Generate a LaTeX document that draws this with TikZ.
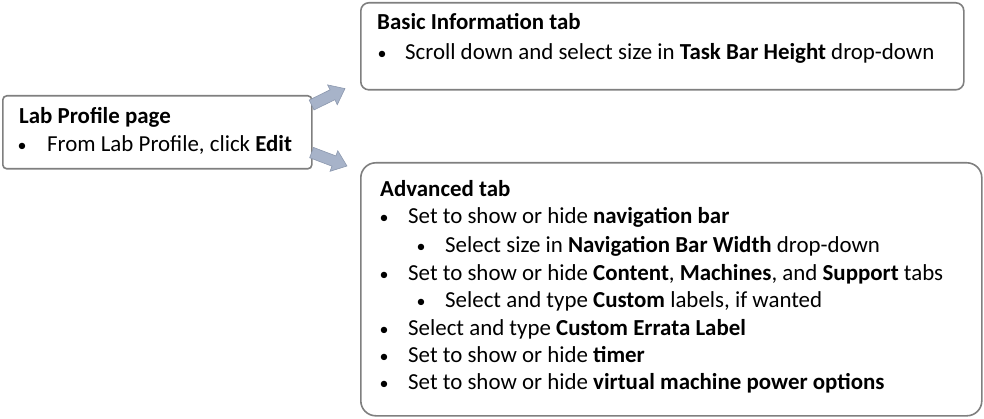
\documentclass[tikz,border=0pt]{standalone}
\usepackage{fontspec}
\setmainfont{Carlito}
\usetikzlibrary{calc}
\definecolor{boxline}{HTML}{7F7F7F}
\definecolor{arrowfill}{HTML}{A7B3C9}
\definecolor{arrowline}{HTML}{8C98AE}
\tikzset{
  panel/.style={draw=boxline, line width=1.6pt, fill=white, inner sep=0pt, anchor=north west},
  txt/.style={anchor=base west, inner sep=0pt, font=\fontsize{22.9}{27}\selectfont},
  dot/.style={anchor=base, inner sep=0pt, font=\fontsize{18}{22}\selectfont},
  blockarrow/.style={fill=arrowfill, draw=arrowline, line width=0.6pt, line join=miter}
}
% block arrow from #1 to #2: shaft half-width 5.5, head half-width 11, head length 14
\newcommand\blockarrowpath[2]{%
  \path[blockarrow] let \p1=($(#2)-(#1)$), \n1={atan2(\y1,\x1)}, \n2={veclen(\x1,\y1)} in
    [shift={(#1)}, rotate=\n1]
    (0,-5.5) -- (\n2-14,-5.5) -- (\n2-14,-11) -- (\n2,0) -- (\n2-14,11) -- (\n2-14,5.5) -- (0,5.5) -- cycle;}
\begin{document}
\begin{tikzpicture}[x=1pt, y=1pt]
\useasboundingbox (0,0) rectangle (984,418);

% panels
\node[panel, rounded corners=4pt, minimum width=309pt, minimum height=73pt] (lab) at (2,323) {};
\node[panel, rounded corners=8pt, minimum width=603pt, minimum height=87pt] (basic) at (360,416) {};
\node[panel, rounded corners=15pt, minimum width=621pt, minimum height=253pt] (adv) at (360,256) {};

% arrow end points
\coordinate (tailA) at ($(lab.north east)+(-1,-10)$);
\coordinate (tailB) at ($(lab.south east)+(-1,17)$);
\coordinate (tipA) at ($(basic.south west)+(-15,2)$);
\coordinate (tipB) at ($(adv.north west)+(-13,-4)$);
\blockarrowpath{tailA}{tipA}
\blockarrowpath{tailB}{tipB}

% Lab Profile page
\node[txt] (labt) at (19,294) {\bfseries Lab Profile page};
\node[dot] (labb1) at (22,266) {•};
\node[txt] (labl1) at (47,266) {From Lab Profile, click \textbf{Edit}};

% Basic Information tab
\node[txt] (bast) at (377,388) {\bfseries Basic Information tab};
\node[dot] (basb1) at (382,358) {•};
\node[txt] (basl1) at (405,358) {Scroll down and select size in \textbf{Task Bar Height} drop-down};

% Advanced tab
\node[txt] (advt) at (380,222) {\bfseries Advanced tab};
\node[dot] (advb1) at (384,194) {•};
\node[txt] (advl1) at (408,194) {Set to show or hide \textbf{navigation bar}};
\node[dot] (advb2) at (421,166) {•};
\node[txt] (advl2) at (445,166) {Select size in \textbf{Navigation Bar Width} drop-down};
\node[dot] (advb3) at (384,138) {•};
\node[txt] (advl3) at (408,138) {Set to show or hide \textbf{Content}, \textbf{Machines}, and \textbf{Support} tabs};
\node[dot] (advb4) at (421,111) {•};
\node[txt] (advl4) at (445,111) {Select and type \textbf{Custom} labels, if wanted};
\node[dot] (advb5) at (384,83) {•};
\node[txt] (advl5) at (408,83) {Select and type \textbf{Custom Errata Label}};
\node[dot] (advb6) at (384,56) {•};
\node[txt] (advl6) at (408,56) {Set to show or hide \textbf{timer}};
\node[dot] (advb7) at (384,29) {•};
\node[txt] (advl7) at (408,29) {Set to show or hide \textbf{virtual machine power options}};
\end{tikzpicture}
\end{document}
